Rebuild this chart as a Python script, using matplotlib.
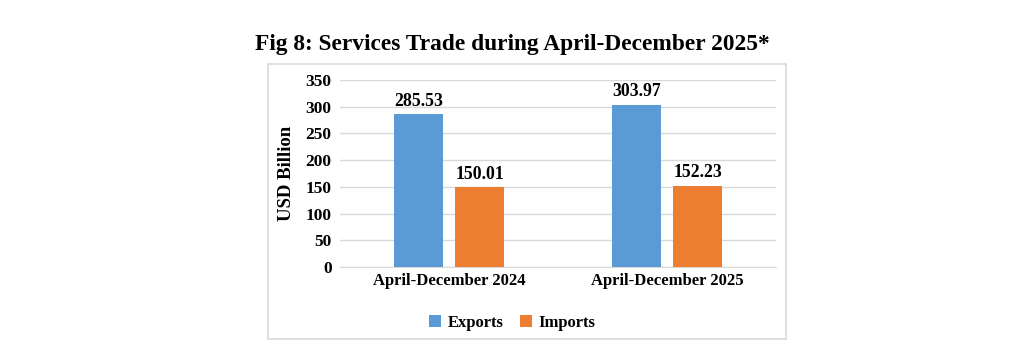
import matplotlib.pyplot as plt
import numpy as np
from matplotlib.patches import Rectangle

plt.rcParams['font.family'] = ['Liberation Serif', 'DejaVu Serif']
plt.rcParams['font.weight'] = 'bold'

periods = ['April-December 2024', 'April-December 2025']
exports = [285.53, 303.97]
imports = [150.01, 152.23]
series_names = ['Exports', 'Imports']
colors = ['#5B9BD5', '#ED7D31']

fig = plt.figure(figsize=(10.24, 3.53), dpi=100)

# outer frame round the chart area
frame = Rectangle((0.2617, 0.040), 0.506, 0.779, transform=fig.transFigure,
                  fill=False, edgecolor='#d9d9d9', linewidth=1.2)
fig.patches.append(frame)

fig.text(0.5, 0.875, 'Fig 8: Services Trade during April-December 2025*',
         ha='center', va='center', fontsize=16.8, fontweight='bold')

ax = fig.add_axes([0.332, 0.2436, 0.426, 0.530])
x = np.arange(len(periods))
width = 0.225
offset = 0.14

b1 = ax.bar(x - offset, exports, width, color=colors[0], label=series_names[0], zorder=3)
b2 = ax.bar(x + offset, imports, width, color=colors[1], label=series_names[1], zorder=3)

for bars in (b1, b2):
    for bar in bars:
        h = bar.get_height()
        ax.text(bar.get_x() + bar.get_width() / 2, h + 8, f'{h:.2f}',
                ha='center', va='bottom', fontsize=12.8, fontweight='bold')

ax.set_xlim(-0.5, 1.5)
ax.set_ylim(0, 350)
ax.set_yticks(np.arange(0, 351, 50))
ax.set_xticks(x)
ax.set_xticklabels(periods, fontsize=12, fontweight='bold')
ax.tick_params(axis='y', labelsize=12.5, length=0, pad=6)
ax.tick_params(axis='x', length=0, pad=4)
ax.set_ylabel('USD Billion', fontsize=13.5, fontweight='bold', labelpad=8)

ax.grid(axis='y', color='#d9d9d9', linewidth=1, zorder=0)
for side in ['top', 'right', 'left']:
    ax.spines[side].set_visible(False)
ax.spines['bottom'].set_color('#d9d9d9')

fig.legend(handles=[b1, b2], labels=series_names, loc='center',
           bbox_to_anchor=(0.5, 0.085), ncol=2, frameon=False,
           fontsize=12, handlelength=0.7, handleheight=0.7,
           handletextpad=0.4, columnspacing=1.0)

fig.savefig('out.png', dpi=100)
